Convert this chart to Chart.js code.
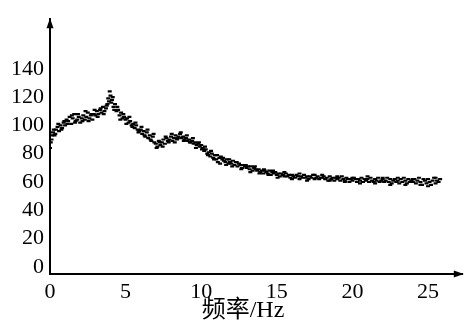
<!DOCTYPE html>
<html><head><meta charset="utf-8">
<script src="https://cdn.jsdelivr.net/npm/chart.js@4/dist/chart.umd.min.js"></script>
<style>html,body{margin:0;padding:0;background:#fff;}#wrap{width:467px;height:325px;}</style>
</head><body><div id="wrap"><canvas id="c" width="467" height="325"></canvas></div>
<script>
const xTickValues = [0, 5, 10, 15, 20, 25];
const yTickValues = [0, 20, 40, 60, 80, 100, 120, 140];
const xTitle = '频率/Hz';

const freqMain = [
0.0,0.1,0.2,0.3,0.4,0.5,0.6,0.7,0.8,0.9,
1.0,1.1,1.2,1.3,1.4,1.5,1.6,1.7,1.8,1.9,
2.0,2.1,2.2,2.3,2.4,2.5,2.6,2.7,2.8,2.9,
3.0,3.1,3.2,3.3,3.4,3.5,3.6,3.7,3.8,3.9,
4.0,4.1,4.2,4.3,4.4,4.5,4.6,4.7,4.8,4.9,
5.0,5.1,5.2,5.3,5.4,5.5,5.6,5.7,5.8,5.9,
6.0,6.1,6.2,6.3,6.4,6.5,6.6,6.7,6.8,6.9,
7.0,7.1,7.2,7.3,7.4,7.5,7.6,7.7,7.8,7.9,
8.0,8.1,8.2,8.3,8.4,8.5,8.6,8.7,8.8,8.9,
9.0,9.1,9.2,9.3,9.4,9.5,9.6,9.7,9.8,9.9,
10.0,10.1,10.2,10.3,10.4,10.5,10.6,10.7,10.8,10.9,
11.0,11.1,11.2,11.3,11.4,11.5,11.6,11.7,11.8,11.9,
12.0,12.1,12.2,12.3,12.4,12.5,12.6,12.7,12.8,12.9,
13.0,13.1,13.2,13.3,13.4,13.5,13.6,13.7,13.8,13.9,
14.0,14.1,14.2,14.3,14.4,14.5,14.6,14.7,14.8,14.9,
15.0,15.1,15.2,15.3,15.4,15.5,15.6,15.7,15.8,15.9,
16.0,16.1,16.2,16.3,16.4,16.5,16.6,16.7,16.8,16.9,
17.0,17.1,17.2,17.3,17.4,17.5,17.6,17.7,17.8,17.9,
18.0,18.1,18.2,18.3,18.4,18.5,18.6,18.7,18.8,18.9,
19.0,19.1,19.2,19.3,19.4,19.5,19.6,19.7,19.8,19.9,
20.0,20.1,20.2,20.3,20.4,20.5,20.6,20.7,20.8,20.9,
21.0,21.1,21.2,21.3,21.4,21.5,21.6,21.7,21.8,21.9,
22.0,22.1,22.2,22.3,22.4,22.5,22.6,22.7,22.8,22.9,
23.0,23.1,23.2,23.3,23.4,23.5,23.6,23.7,23.8,23.9,
24.0,24.1,24.2,24.3,24.4,24.5,24.6,24.7,24.8,24.9,
25.0,25.1,25.2,25.3,25.4,25.5,25.6,25.7,25.8
];
const ampMain = [
84,90,95,93,97,99,96,100,98,102,
100,104,103,106,101,105,108,103,104,106,
102,105,107,104,106,109,105,107,104,108,
107,110,108,111,109,113,110,112,115,117,
121,118,113,115,110,111,107,109,105,106,
104,105,102,103,100,101,98,100,97,96,
97,94,96,92,95,91,93,89,92,88,
87,85,89,86,88,90,87,91,89,90,
92,89,91,93,90,92,94,91,92,90,
91,89,90,88,89,87,88,86,87,85,
86,84,82,83,80,81,78,80,77,79,
76,74,77,78,76,75,74,76,73,74,
73,75,72,74,71,73,72,70,72,71,
70,71,69,71,68,70,69,68,69,67,
68,66,68,67,66,68,65,67,66,67,
65,66,64,66,65,64,66,64,65,63,
65,64,63,65,64,62,64,63,65,63,
64,62,64,63,65,62,63,64,62,63,
63,64,62,63,61,64,62,63,61,63,
62,63,61,64,62,61,63,62,60,62,
61,63,62,60,62,61,63,60,62,61,
62,60,63,61,60,62,61,63,60,61,
62,60,61,63,60,62,59,61,62,60,
61,59,62,60,63,61,59,62,60,61,
60,62,59,61,63,60,58,62,61,59,
62,60,58,61,63,59,61,60,62
];
const freqExtra = [
0.05,0.15,0.25,0.35,0.55,0.75,0.95,1.15,1.45,1.65,1.85,2.15,2.35,2.55,2.75,2.95,
3.15,3.35,3.55,3.75,3.85,3.95,4.05,4.15,4.25,4.45,4.65,4.85,5.05,5.25,5.45,5.65,
5.85,6.05,6.25,6.45,6.65,6.85,7.05,7.25,7.45,7.65,7.85,8.05,8.25,8.45,8.65,8.85,
9.05,9.25,9.45,9.65,9.85,10.05,10.25,10.45,10.65,10.85,11.05,11.25,11.45,11.65,11.85,
12.05,12.35,12.65,12.95,13.25,13.55,13.85,14.15,14.45,14.75,15.05,15.5,16.0,16.5,
17.0,17.5,18.0,18.5,19.0,19.5,20.0,20.5,21.0,21.5,22.0,22.5,23.0,23.5,24.0,24.5,25.0,25.5
];
const ampExtra = [
88,93,97,94,101,97,103,101,107,102,108,103,110,103,108,111,
106,112,108,114,119,124,116,120,111,113,104,108,101,106,99,102,
95,99,93,97,90,94,84,88,85,92,88,94,88,91,95,89,
93,88,91,84,88,83,85,79,82,76,79,73,77,72,76,
71,74,69,72,67,71,66,69,65,68,63,67,62,66,
61,65,65,61,64,60,63,59,64,59,63,58,63,58,62,58,57,63
];

const points = freqMain.map((f, i) => ({x: f, y: ampMain[i]}))
  .concat(freqExtra.map((f, i) => ({x: f, y: ampExtra[i]})));

const arrowPlugin = {
  id: 'arrows',
  afterDraw(chart) {
    const ctx = chart.ctx;
    const xs = chart.scales.x, ys = chart.scales.y;
    const ox = xs.getPixelForValue(0);
    const oy = ys.getPixelForValue(ys.min);
    const topY = ys.getPixelForValue(ys.max);
    const rightX = xs.getPixelForValue(xs.max);
    ctx.save();
    ctx.fillStyle = '#000';
    ctx.beginPath();
    ctx.moveTo(ox, topY - 1);
    ctx.lineTo(ox - 3.5, topY + 9);
    ctx.lineTo(ox + 3.5, topY + 9);
    ctx.closePath();
    ctx.fill();
    ctx.beginPath();
    ctx.moveTo(rightX + 1, oy);
    ctx.lineTo(rightX - 9, oy - 3.5);
    ctx.lineTo(rightX - 9, oy + 3.5);
    ctx.closePath();
    ctx.fill();
    ctx.font = '24px "Liberation Serif", "Noto Sans CJK SC", serif';
    ctx.textAlign = 'center';
    ctx.textBaseline = 'middle';
    ctx.fillText(xTitle, 243, 311);
    ctx.restore();
  }
};

new Chart(document.getElementById('c'), {
  type: 'scatter',
  data: {
    datasets: [{
      data: points,
      pointStyle: 'line',
      pointRadius: 2,
      pointBorderWidth: 2.2,
      borderColor: '#000',
      backgroundColor: '#000',
      pointHoverRadius: 2
    }]
  },
  options: {
    responsive: false,
    animation: false,
    events: [],
    layout: {padding: {left: 0, right: 2, top: 10, bottom: 0}},
    plugins: {legend: {display: false}, tooltip: {enabled: false}},
    scales: {
      x: {
        type: 'linear', min: 0, max: 27.3,
        grid: {display: false, drawTicks: false},
        border: {display: true, color: '#000', width: 2},
        afterBuildTicks: s => { s.ticks = xTickValues.map(v => ({value: v})); },
        afterFit: s => { s.height = 51; },
        ticks: {color: '#000', padding: 5, maxRotation: 0, autoSkip: false,
          font: {family: '"Liberation Serif", serif', size: 22}}
      },
      y: {
        type: 'linear', min: -5, max: 175,
        grid: {display: false, drawTicks: false},
        border: {display: true, color: '#000', width: 2},
        afterBuildTicks: s => { s.ticks = yTickValues.map(v => ({value: v})); },
        afterFit: s => { s.width = 50; },
        ticks: {color: '#000', padding: 6, autoSkip: false,
          font: {family: '"Liberation Serif", serif', size: 22}}
      }
    }
  },
  plugins: [arrowPlugin]
});
</script></body></html>
